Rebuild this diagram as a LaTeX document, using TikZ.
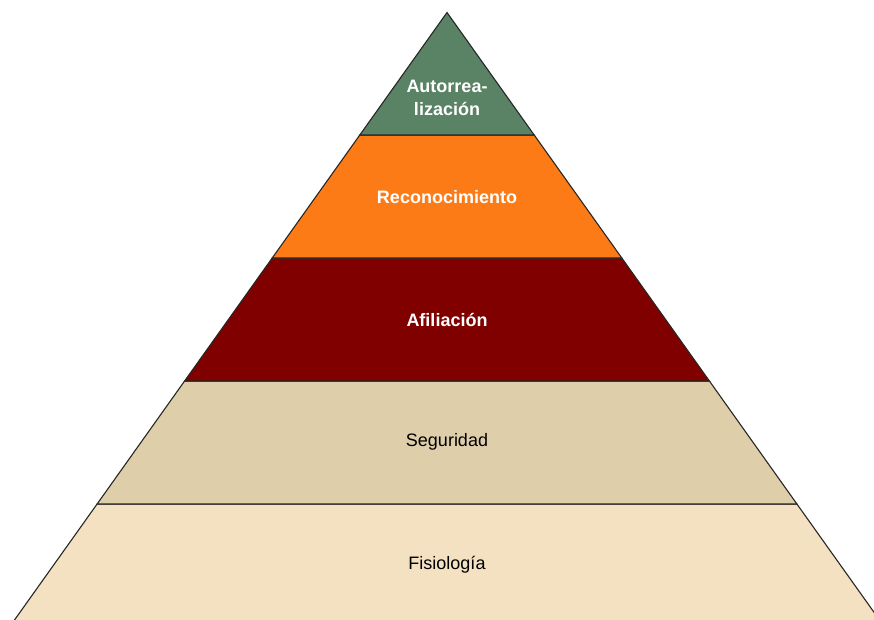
\documentclass[tikz,border=0pt]{standalone}
\usepackage{fontspec}
\setmainfont{Liberation Sans}
\usepackage{tikz}
\usetikzlibrary{calc}
\definecolor{selfgreen}{RGB}{90,130,100}
\definecolor{esteemorange}{RGB}{252,123,22}
\definecolor{lovered}{RGB}{128,0,0}
\definecolor{safetytan}{RGB}{223,206,170}
\definecolor{bodycream}{RGB}{244,225,193}
\tikzset{
      layer/.style     = {draw=black!85, line width=1.1pt, line join=miter},
      lightlabel/.style = {text=white, font=\fontsize{18}{23}\selectfont\bfseries, align=center},
      darklabel/.style  = {text=black, font=\fontsize{18}{23}\selectfont, align=center},
    }

\begin{document}
\begin{tikzpicture}[x=1pt, y=-1pt]
        \useasboundingbox (0,0) rectangle (874,619);
        \clip (0,0) rectangle (874,619);

        % corners of the levels
        \coordinate (top) at (447,12.5);
        \coordinate (l1) at (359.8,135);
        \coordinate (r1) at (534.2,135);
        \coordinate (l2) at (272.2,258);
        \coordinate (r2) at (621.8,258);
        \coordinate (l3) at (184.6,381);
        \coordinate (r3) at (709.4,381);
        \coordinate (l4) at (97.1,504);
        \coordinate (r4) at (796.9,504);
        \coordinate (l5) at (9.5,627);
        \coordinate (r5) at (884.5,627);

        \filldraw[layer, fill=bodycream] (l4) -- (r4) -- (r5) -- (l5) -- cycle;
        \filldraw[layer, fill=safetytan] (l3) -- (r3) -- (r4) -- (l4) -- cycle;
        \filldraw[layer, fill=lovered] (l2) -- (r2) -- (r3) -- (l3) -- cycle;
        \filldraw[layer, fill=esteemorange] (l1) -- (r1) -- (r2) -- (l2) -- cycle;
        \filldraw[layer, fill=selfgreen] (top) -- (r1) -- (l1) -- cycle;

        \node[lightlabel] (self) at (447,98) {Autorrea-\\lización};
        \node[lightlabel] (esteem) at (447,197) {Reconocimiento};
        \node[lightlabel] (love) at (447,320) {Afiliación};
        \node[darklabel] (safety) at (447,442) {Seguridad};
        \node[darklabel] (body) at (447,565) {Fisiología};

        \end{tikzpicture}
\end{document}
